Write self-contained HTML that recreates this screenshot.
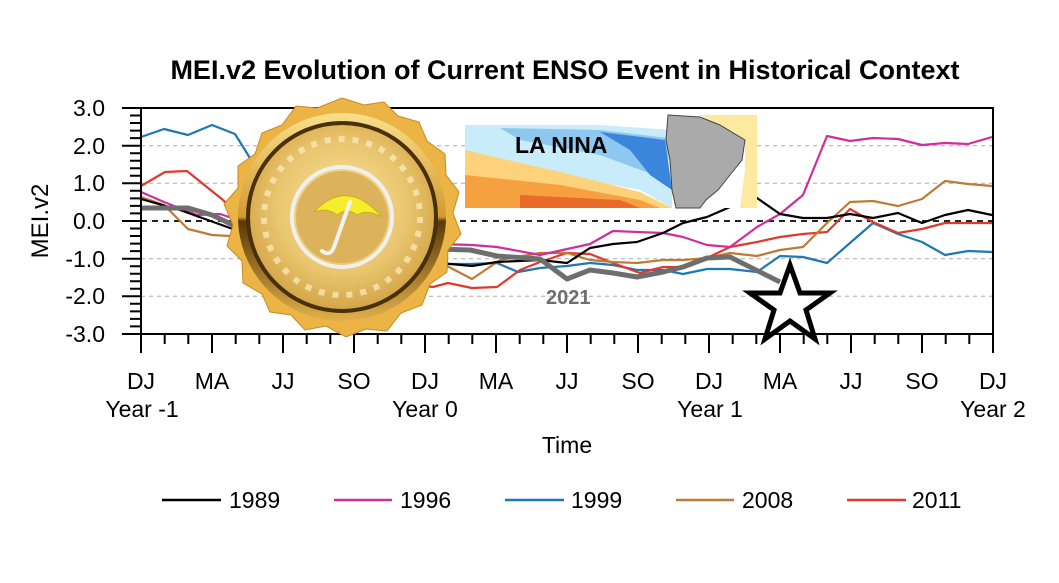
<!DOCTYPE html>
<html><head><meta charset="utf-8"><style>
html,body{margin:0;padding:0;background:#fff;}
svg{display:block;font-family:"Liberation Sans",Arial,sans-serif;}
</style></head><body>
<svg width="1059" height="583" viewBox="0 0 1059 583" xmlns="http://www.w3.org/2000/svg">
<defs>
<linearGradient id="rim" x1="0" y1="0" x2="0" y2="1">
<stop offset="0" stop-color="#f9e08a"/><stop offset="0.5" stop-color="#d39a30"/><stop offset="0.52" stop-color="#5a3a08"/><stop offset="1" stop-color="#e2b04a"/></linearGradient>
<radialGradient id="face" cx="50%" cy="45%" r="60%">
<stop offset="0" stop-color="#fbe7a2"/><stop offset="0.6" stop-color="#e9c56e"/><stop offset="1" stop-color="#cf9e3e"/></radialGradient>
</defs>
<text x="565" y="79" text-anchor="middle" font-size="27" font-weight="bold">MEI.v2 Evolution of Current ENSO Event in Historical Context</text>
<g stroke="#aaa" stroke-dasharray="4,4" stroke-width="1">
<line x1="141" y1="145.7" x2="993" y2="145.7"/><line x1="141" y1="183.3" x2="993" y2="183.3"/>
<line x1="141" y1="258.7" x2="993" y2="258.7"/><line x1="141" y1="296.3" x2="993" y2="296.3"/>
</g>
<line x1="141" y1="221" x2="993" y2="221" stroke="#222" stroke-width="2" stroke-dasharray="6,5"/>
<g fill="none" stroke-width="2.2" stroke-linejoin="round">
<polyline stroke="#1f77b4" points="141,137 164,129 188,135 212,125 235,134 245,150 300,240 445,264 470,264 497,263 518,272 540,268 567,266 590,263 613,265 637,270 663,270 683,274 707,269 730,269 757,272 780,256 803,257 827,263 850,243 873,223 898,234 922,242 945,255 968,251 992,252"/>
<polyline stroke="#e03a2e" points="141,186 165,172 187,171 223,200 300,270 433,287 448,283 472,288 497,287 520,270 540,262 567,253 590,254 613,263 640,273 663,267 683,267 707,258 730,247 757,242 780,237 803,234 827,232 850,209 873,222 898,233 922,229 945,223 968,223 992,223"/>
<polyline stroke="#bf7a35" points="141,197 164,205 188,229 212,235 230,236 300,250 447,266 472,279 500,260 540,253 567,253 590,260 613,262 637,263 663,260 683,260 707,258 730,253 757,256 780,250 803,247 827,223 850,202 873,201 898,206 922,199 945,181 968,184 992,186"/>
<polyline stroke="#d02e9a" points="141,192 164,202 197,215 220,214 300,240 472,245 497,247 540,255 590,244 613,231 637,232 663,233 683,237 707,245 730,247 757,227 780,214 803,195 827,136 850,141 873,138 898,139 922,145 945,143 968,144 992,137"/>
<polyline stroke="#000" points="141,199 180,210 230,228 300,250 472,266 497,262 540,260 567,263 590,248 613,244 637,242 663,233 683,223 707,217 730,207 745,195 757,198 780,214 803,218 827,218 850,214 873,218 898,213 922,223 945,215 968,210 992,215"/>
<polyline stroke="#6e6e6e" stroke-width="5" points="141,208 188,208 212,215 235,226 300,245 470,250 497,256 540,259 567,279 590,270 613,273 637,277 663,272 683,267 707,258 730,257 780,282"/>
</g>
<text x="546" y="304" font-size="20" font-weight="bold" fill="#6e6e6e">2021</text>
<rect x="141" y="108" width="852" height="226" fill="none" stroke="#000" stroke-width="2"/>
<g stroke="#000" stroke-width="2">
<path d="M122,108H141M122,145.7H141M122,183.3H141M122,221H141M122,258.7H141M122,296.3H141M122,334H141"/>
<path d="M130,115.5H141M130,123H141M130,130.6H141M130,138.1H141M130,153.2H141M130,160.7H141M130,168.2H141M130,175.8H141M130,190.8H141M130,198.4H141M130,205.9H141M130,213.4H141M130,228.5H141M130,236H141M130,243.6H141M130,251.1H141M130,266.2H141M130,273.7H141M130,281.2H141M130,288.8H141M130,303.8H141M130,311.4H141M130,318.9H141M130,326.4H141"/>
<path d="M141,334V353M212,334V353M283,334V353M354,334V353M425,334V353M496,334V353M567,334V353M638,334V353M709,334V353M780,334V353M851,334V353M922,334V353M993,334V353"/>
<path d="M164.7,334V344M188.3,334V344M235.7,334V344M259.3,334V344M306.7,334V344M330.3,334V344M377.7,334V344M401.3,334V344M448.7,334V344M472.3,334V344M519.7,334V344M543.3,334V344M590.7,334V344M614.3,334V344M661.7,334V344M685.3,334V344M732.7,334V344M756.3,334V344M803.7,334V344M827.3,334V344M874.7,334V344M898.3,334V344M945.7,334V344M969.3,334V344"/>
</g>
<g font-size="23" text-anchor="end">
<text x="105" y="116">3.0</text><text x="105" y="154">2.0</text><text x="105" y="191">1.0</text><text x="105" y="229">0.0</text><text x="105" y="267">-1.0</text><text x="105" y="304">-2.0</text><text x="105" y="342">-3.0</text>
</g>
<text transform="translate(48,221) rotate(-90)" text-anchor="middle" font-size="24">MEI.v2</text>
<g font-size="23" text-anchor="middle">
<text x="141" y="389">DJ</text><text x="212" y="389">MA</text><text x="283" y="389">JJ</text><text x="354" y="389">SO</text><text x="425" y="389">DJ</text><text x="496" y="389">MA</text><text x="567" y="389">JJ</text><text x="638" y="389">SO</text><text x="709" y="389">DJ</text><text x="780" y="389">MA</text><text x="851" y="389">JJ</text><text x="922" y="389">SO</text><text x="993" y="389">DJ</text>
<text x="142" y="417">Year -1</text><text x="425" y="417">Year 0</text><text x="710" y="417">Year 1</text><text x="993" y="417">Year 2</text>
<text x="567" y="453">Time</text>
</g>
<g stroke-width="2.5">
<line x1="162" y1="500" x2="221" y2="500" stroke="#000"/>
<line x1="334" y1="500" x2="392" y2="500" stroke="#d02e9a"/>
<line x1="505" y1="500" x2="564" y2="500" stroke="#1f77b4"/>
<line x1="676" y1="500" x2="734" y2="500" stroke="#bf7a35"/>
<line x1="847" y1="500" x2="906" y2="500" stroke="#e03a2e"/>
</g>
<g font-size="23">
<text x="229" y="508">1989</text><text x="400" y="508">1996</text><text x="571" y="508">1999</text><text x="742" y="508">2008</text><text x="912" y="508">2011</text>
</g>
<g>
<rect x="465" y="115" width="292" height="93" fill="#fff"/>
<polygon points="465,125 600,125 672,130 672,208 640,190 560,175 465,150" fill="#c8ecfa"/>
<polygon points="500,128 600,130 668,138 668,180 600,155 520,140" fill="#8ec8f0"/>
<polygon points="600,132 665,140 672,190 650,175 630,150" fill="#3a86dc"/>
<polygon points="465,150 560,172 640,192 672,208 465,208" fill="#fdd27a"/>
<polygon points="465,175 560,185 640,200 660,208 465,208" fill="#f7a040"/>
<polygon points="520,195 620,200 640,208 520,208" fill="#ea6a2a"/>
<polygon points="700,115 757,115 757,208 740,208 745,170 745,140" fill="#fde9a0"/>
<polygon points="668,115 700,117 720,125 745,140 742,160 730,175 718,190 706,200 700,208 676,208 672,190 670,160 666,140" fill="#aaa" stroke="#444" stroke-width="1"/>
<text x="515" y="153" font-size="23" font-weight="bold">LA NINA</text>
</g>
<g transform="translate(342,217)">
<polygon fill="#ebb445" stroke="#c98a20" stroke-width="1" points="0,-119 22,-112 42,-115 56,-101 77,-95 85,-76 103,-63 104,-42 117,-25 111,-4 119,17 106,33 105,55 88,67 80,88 59,96 45,114 24,112 4,120 -16,109 -37,113 -51,98 -72,95 -80,77 -99,66 -100,44 -115,29 -109,8 -118,-13 -104,-29 -104,-51 -87,-63 -80,-84 -60,-92 -46,-111 -25,-109"/>
<circle r="104" fill="url(#rim)"/>
<circle r="96" fill="#4a3008"/>
<circle r="92" fill="url(#face)"/>
<circle r="78" fill="none" stroke="#fbecc0" stroke-width="6" stroke-dasharray="6,8" opacity="0.7"/>
<circle r="50" fill="none" stroke="#f0f0f0" stroke-width="4"/>
<circle r="46" fill="#dcb25a"/>
<path d="M-28,-5 Q5,-40 40,0 Q25,-8 15,-2 Q5,-10 -5,-2 Q-15,-10 -28,-5Z" fill="#f6ee2c" stroke="#c9b020" stroke-width="1"/>
<path d="M8,-15 L-8,30 Q-12,40 -20,34" fill="none" stroke="#f2f2f2" stroke-width="4" stroke-linecap="round"/>
</g>
<polygon points="790,265 800,293 830,293 806,310 815,339 790,321 765,339 774,310 750,293 780,293" fill="#fff" stroke="#000" stroke-width="5"/>
</svg>
</body></html>
